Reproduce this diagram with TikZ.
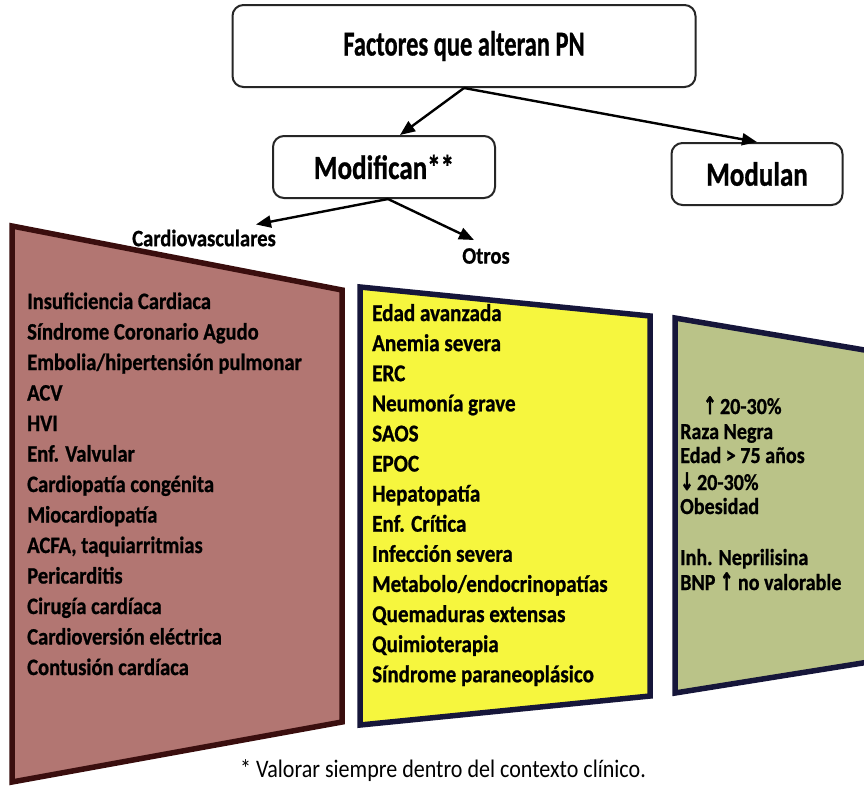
\documentclass[tikz,border=0pt]{standalone}
\usepackage{fontspec}
\setmainfont{Carlito}[BoldFeatures={FakeBold=0.9}]
\newfontfamily\arrowfont{DejaVu Sans}[FakeBold=2]
\usetikzlibrary{arrows.meta,calc}
\definecolor{redfill}{RGB}{178,118,114}
\definecolor{redline}{RGB}{58,14,14}
\definecolor{yelfill}{RGB}{246,246,62}
\definecolor{grnfill}{RGB}{186,195,136}
\definecolor{navy}{RGB}{22,22,58}
\newcommand{\up}{\scalebox{0.8}[1.05]{\arrowfont ↑}}
\newcommand{\down}{\scalebox{0.8}[1.05]{\arrowfont ↓}}
\newcommand{\tall}[1]{\scalebox{0.98}[1.12]{#1}}
\begin{document}
\begin{tikzpicture}[x=1pt,y=-1pt,
  box/.style={draw=black!85, line width=2pt, rounded corners=11pt, fill=white, inner sep=0pt},
  arr/.style={line width=2.4pt, -{Triangle[length=15pt,width=12pt]}},
  lbl/.style={font=\bfseries\fontsize{21}{24}\selectfont, inner sep=0pt},
  ritem/.style={anchor=base west, inner sep=0pt, font=\bfseries\fontsize{21}{24}\selectfont},
  yitem/.style={anchor=base west, inner sep=0pt, font=\bfseries\fontsize{21.5}{24}\selectfont},
  gitem/.style={anchor=base west, inner sep=0pt, font=\bfseries\fontsize{20.5}{22}\selectfont},
  panel/.style={line width=5.5pt, line join=miter}]
\useasboundingbox (0,0) rectangle (864,785);
\fill[white] (0,0) rectangle (864,785);

% panels
\draw[panel, draw=redline, fill=redfill] (12,226) -- (342,290) -- (342,722) -- (12,782) -- cycle;
\draw[panel, draw=navy, fill=yelfill] (360,287) -- (650,316) -- (650,696) -- (360,725) -- cycle;
\begin{scope}
\clip (0,0) rectangle (864,785);
\draw[panel, draw=navy, fill=grnfill] (675,318) -- (900,356) -- (900,657) -- (675,693) -- cycle;
\end{scope}

% header boxes
\node[box, minimum width=463pt, minimum height=82pt, font=\bfseries\fontsize{25}{30}\selectfont] (top) at (464,46) {\scalebox{0.98}[1.4]{Factores que alteran PN}};
\node[box, minimum width=222pt, minimum height=62pt, font=\bfseries\fontsize{27}{30}\selectfont] (modif) at (384,167) {\scalebox{1}[1.25]{Modifican**}};
\node[box, minimum width=171pt, minimum height=62pt, font=\bfseries\fontsize{27}{30}\selectfont] (modul) at (757,174) {\scalebox{1}[1.25]{Modulan}};

% labels
\node[lbl] (cv) at (204,238) {\tall{Cardiovasculares}};
\node[lbl] (otros) at (486,256) {\tall{Otros}};

% arrows
\draw[arr] (top.south) -- ($(modif.north)+(16,0)$);
\draw[arr] (top.south) -- (modul.north);
\coordinate (ms) at ($(modif.south)+(4,0)$);
\draw[arr] (ms) -- ($(cv.north)+(52,-5)$);
\draw[arr] (ms) -- ($(otros.north)+(-12,-8)$);

% red list
\foreach \t [count=\i from 0] in {Insuficiencia Cardiaca, Síndrome Coronario Agudo, Embolia/hipertensión pulmonar, ACV, HVI, Enf. Valvular, Cardiopatía congénita, Miocardiopatía, {ACFA, taquiarritmias}, Pericarditis, Cirugía cardíaca, Cardioversión eléctrica, Contusión cardíaca}
  \node[ritem] (r\i) at (27,309+\i*30.5) {\tall{\t}};

% yellow list
\foreach \t [count=\i from 0] in {Edad avanzada, Anemia severa, ERC, Neumonía grave, SAOS, EPOC, Hepatopatía, Enf. Crítica, Infección severa, Metabolo/endocrinopatías, Quemaduras extensas, Quimioterapia, Síndrome paraneoplásico}
  \node[yitem] (y\i) at (372,321+\i*30.1) {\tall{\t}};

% green list
\node[gitem] (g1) at (703,414) {\tall{\up\,20-30\%}};
\node[gitem] (g2) at (680,439) {\tall{Raza Negra}};
\node[gitem] (g3) at (680,463) {\tall{Edad > 75 años}};
\node[gitem] (g4) at (680,490) {\tall{\down\,20-30\%}};
\node[gitem] (g5) at (680,514) {\tall{Obesidad}};
\node[gitem] (g6) at (680,565) {\tall{Inh. Neprilisina}};
\node[gitem] (g7) at (680,590) {\tall{BNP \up\ no valorable}};

% footnote
\node[anchor=base, inner sep=0pt, font=\fontsize{22.5}{24}\selectfont] (foot) at (443,777) {\tall{* Valorar siempre dentro del contexto clínico.}};
\end{tikzpicture}
\end{document}
